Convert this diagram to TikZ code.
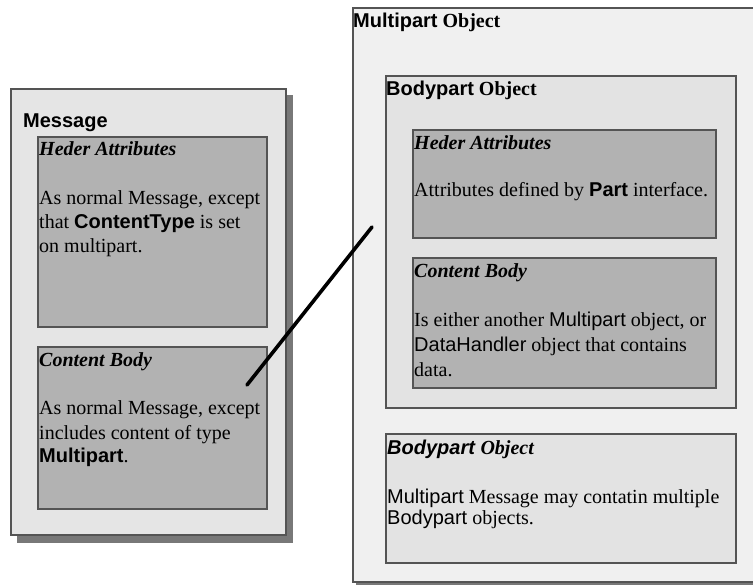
\documentclass[tikz,border=0pt]{standalone}
\usepackage{fontspec}
\setmainfont{Liberation Serif}
\setsansfont{Liberation Sans}
\definecolor{bordc}{gray}{0.33}
\definecolor{shadc}{gray}{0.47}
\definecolor{msgfill}{gray}{0.90}
\definecolor{mpfill}{gray}{0.94}
\definecolor{bpfill}{gray}{0.89}
\definecolor{darkfill}{gray}{0.70}
\newcommand\sfbold[1]{{\sffamily\bfseries #1}}
\newcommand\sfreg[1]{{\sffamily #1}}
\begin{document}
\begin{tikzpicture}[x=1pt,y=-1pt,
  boxbase/.style={rectangle, inner sep=0pt, outer sep=0pt, anchor=north west, draw=bordc, line width=1.4pt},
  outerbox/.style={boxbase, fill=msgfill},
  lightbox/.style={boxbase, fill=bpfill},
  darkbox/.style={boxbase, fill=darkfill, line width=1.8pt},
  txt/.style={anchor=base west, inner sep=0pt, font=\fontsize{20}{24}\selectfont},
  connector/.style={line width=3.6pt, line cap=round, black}]
\useasboundingbox (0,0) rectangle (753,585);
% ---------- Message (left) ----------
\fill[shadc] (17,95) rectangle (293,543);
\node[outerbox, minimum width=275, minimum height=446] (msg) at (11,89) {};
\node[txt] (msgtitle) at (23,128) {\sfbold{Message}};
\node[darkbox, minimum width=229, minimum height=190] (lhead) at (38,137) {};
\node[txt] (lheadt) at (39,156) {\bfseries\itshape Heder Attributes};
\node[txt] (lhead1) at (39,205) {As normal Message, except};
\node[txt] (lhead2) at (39,229) {that \sfbold{ContentType} is set};
\node[txt] (lhead3) at (39,253) {on multipart.};
\node[darkbox, minimum width=229, minimum height=162] (lbody) at (38,347) {};
\node[txt] (lbodyt) at (39,367) {\bfseries\itshape Content Body};
\node[txt] (lbody1) at (39,415) {As normal Message, except};
\node[txt] (lbody2) at (39,439) {includes content of type};
\node[txt] (lbody3) at (39,463) {\sfbold{Multipart}.};
% ---------- Multipart Object (right) ----------
\fill[shadc] (356,582) rectangle (753,586);
\fill[mpfill] (353,8) rectangle (754,582);
\draw[bordc, line width=1.4pt] (754,8) -- (353,8) -- (353,582) -- (754,582);
\coordinate (mp) at (353,8);
\node[txt] (mptitle) at (353,28) {\sfbold{Multipart} \bfseries Object};
\node[lightbox, minimum width=350, minimum height=332] (bp) at (386,76) {};
\node[txt] (bptitle) at (386,96) {\sfbold{Bodypart} \bfseries Object};
\node[darkbox, minimum width=303, minimum height=108] (rhead) at (413,130) {};
\node[txt] (rheadt) at (414,150) {\bfseries\itshape Heder Attributes};
\node[txt] (rhead1) at (414,197) {Attributes defined by \sfbold{Part} interface.};
\node[darkbox, minimum width=303, minimum height=130] (rbody) at (413,258) {};
\node[txt] (rbodyt) at (414,278) {\bfseries\itshape Content Body};
\node[txt] (rbody1) at (414,327) {Is either another \sfreg{Multipart} object, or};
\node[txt] (rbody2) at (414,352) {\sfreg{DataHandler} object that contains};
\node[txt] (rbody3) at (414,377) {data.};
\node[lightbox, minimum width=350, minimum height=129] (bp2) at (386,434) {};
\node[txt] (bp2title) at (387,454) {\bfseries\itshape\sffamily Bodypart \rmfamily Object};
\node[txt] (bp2a) at (387,503) {\sfreg{Multipart} Message may contatin multiple};
\node[txt] (bp2b) at (387,524) {\sfreg{Bodypart} objects.};
% ---------- connector ----------
\coordinate (cA) at (247,385);
\coordinate (cB) at (372,227);
\draw[connector] (cA) -- (cB);
\end{tikzpicture}
\end{document}
